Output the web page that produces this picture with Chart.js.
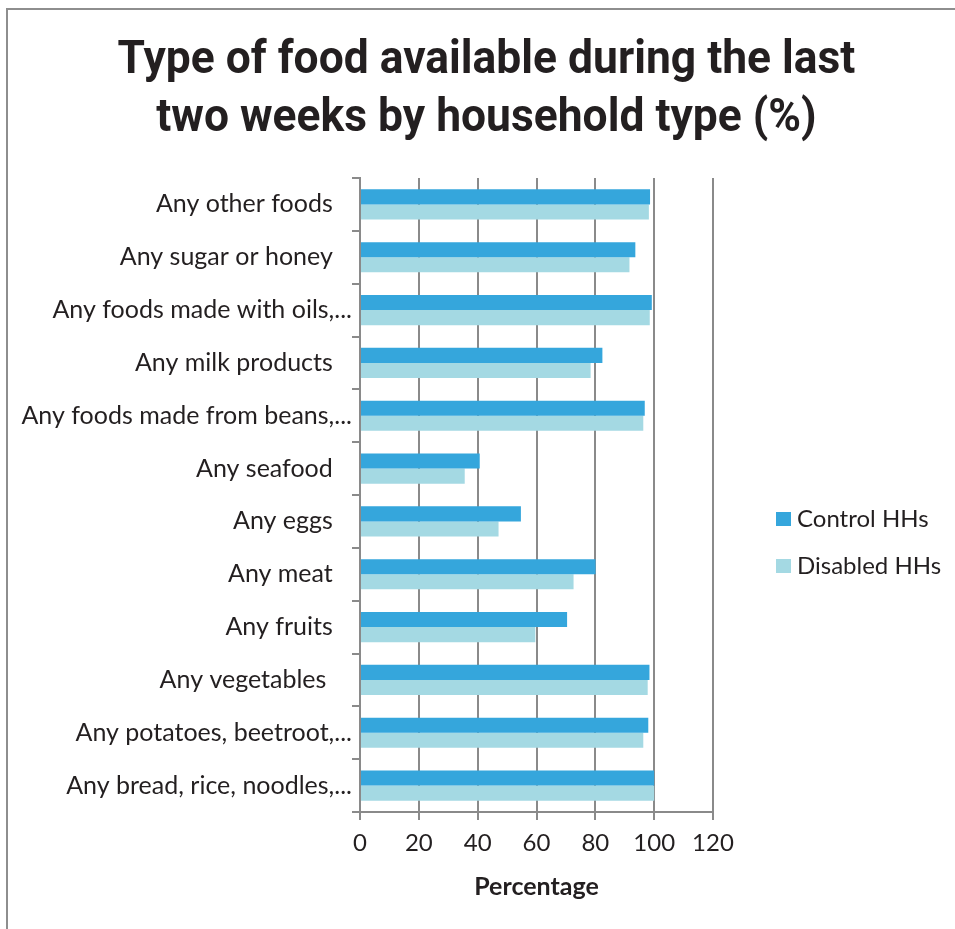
<!DOCTYPE html>
<html>
<head>
<meta charset="utf-8">
<script src="https://cdn.jsdelivr.net/npm/chart.js@4/dist/chart.umd.min.js"></script>
<style>
  html, body { margin: 0; padding: 0; background: #ffffff; }
  #wrap { position: relative; width: 955px; height: 929px; }
  #frame { position: absolute; left: 6px; top: 8px; right: -4px; bottom: -4px;
           border-left: 2px solid #8e8e8e; border-top: 2px solid #8e8e8e; }
  canvas { position: absolute; left: 0; top: 0; }
</style>
</head>
<body>
<div id="wrap">
  <div id="frame"></div>
  <canvas id="chart" width="955" height="929"></canvas>
</div>
<script>
// Food groups, listed top to bottom as they appear on the axis
const categories = [
  "Any other foods   ",
  "Any sugar or honey   ",
  "Any foods made with oils,...",
  "Any milk products   ",
  "Any foods made from beans,...",
  "Any seafood   ",
  "Any eggs   ",
  "Any meat   ",
  "Any fruits   ",
  "Any vegetables    ",
  "Any potatoes, beetroot,...",
  "Any bread, rice, noodles,..."
];

// Share of households (%) with each food available
const controlHHs  = [98.6, 93.6, 99.2, 82.4, 96.8, 40.7, 54.7, 80.1, 70.4, 98.4, 98.0, 100];
const disabledHHs = [98.2, 91.6, 98.5, 78.4, 96.3, 35.6, 47.1, 72.6, 59.6, 97.8, 96.3, 100];

const seriesNames = ["Control HHs", "Disabled HHs"];
const xTicks = [0, 20, 40, 60, 80, 100, 120];
const titleLines = ["Type of food available during the last", "two weeks by household type (%)"];

const GRID = "#8a8a8a";
const TEXT = "#231f20";
const TICK_FONT = "Lato";

// Two-line heading in a slightly narrowed bold face
const heading = {
  id: "heading",
  afterDraw(chart) {
    const ctx = chart.ctx;
    const squeeze = 0.965;
    ctx.save();
    ctx.fillStyle = TEXT;
    ctx.font = "bold 46px Roboto";
    ctx.textAlign = "center";
    ctx.textBaseline = "alphabetic";
    titleLines.forEach((line, i) => {
      ctx.save();
      ctx.translate(486.5, 73 + i * 58);
      ctx.scale(squeeze, 1);
      ctx.fillText(line, 0, 0);
      ctx.restore();
    });
    ctx.restore();
  }
};

// Legend drawn beside the plot, one swatch per dataset
const sideLegend = {
  id: "sideLegend",
  afterDraw(chart) {
    const ctx = chart.ctx;
    ctx.save();
    ctx.font = "24px " + TICK_FONT;
    ctx.textBaseline = "middle";
    ctx.textAlign = "left";
    chart.data.datasets.forEach((ds, i) => {
      const cy = 518 + i * 47;
      ctx.fillStyle = ds.backgroundColor;
      ctx.fillRect(776, cy - 6, 15, 14);
      ctx.fillStyle = TEXT;
      ctx.fillText(ds.label, 797, cy + 1);
    });
    ctx.restore();
  }
};

new Chart(document.getElementById("chart"), {
  type: "bar",
  data: {
    labels: categories,
    datasets: [
      { label: seriesNames[0], data: controlHHs, backgroundColor: "#35a6dc" },
      { label: seriesNames[1], data: disabledHHs, backgroundColor: "#a4d9e3" }
    ]
  },
  options: {
    indexAxis: "y",
    responsive: false,
    animation: false,
    devicePixelRatio: 1,
    categoryPercentage: 0.57,
    barPercentage: 1.0,
    layout: { padding: { left: 0, right: 0, top: 178, bottom: 0 } },
    plugins: {
      legend: { display: false },
      tooltip: { enabled: false },
      title: { display: false }
    },
    scales: {
      x: {
        type: "linear",
        min: 0,
        max: 120,
        afterBuildTicks(scale) { scale.ticks = xTicks.map(v => ({ value: v })); },
        afterFit(scale) { scale.height = 117; },
        grid: { color: GRID, lineWidth: 2, drawTicks: true, tickLength: 8, tickColor: GRID },
        border: { display: true, color: GRID, width: 2 },
        ticks: { color: TEXT, font: { family: TICK_FONT, size: 24 }, padding: 9 },
        title: {
          display: true,
          text: "Percentage",
          color: TEXT,
          font: { family: TICK_FONT, size: 25, weight: "bold" },
          padding: { top: 0, bottom: 27 }
        }
      },
      y: {
        type: "category",
        position: "left",
        afterFit(scale) { scale.width = 360; },
        grid: { display: true, drawOnChartArea: false, offset: true, tickLength: 8, color: GRID, lineWidth: 2 },
        border: { display: true, color: GRID, width: 2 },
        ticks: { color: TEXT, font: { family: TICK_FONT, size: 25 }, padding: 0, autoSkip: false }
      },
      yRight: {
        type: "category",
        position: "right",
        labels: categories,
        afterFit(scale) { scale.width = 242; },
        grid: { display: false },
        border: { display: false },
        ticks: { display: false }
      }
    }
  },
  plugins: [heading, sideLegend]
});
</script>
</body>
</html>
